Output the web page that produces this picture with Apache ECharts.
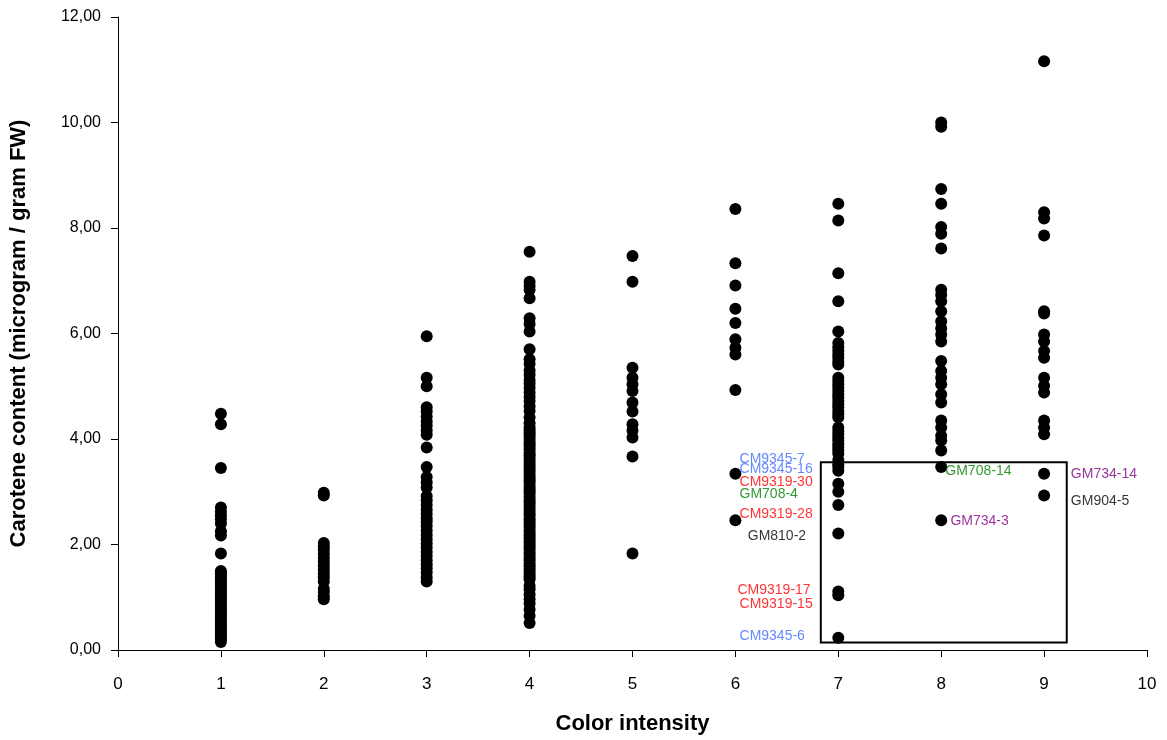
<!DOCTYPE html>
<html>
<head>
<meta charset="utf-8">
<script src="https://cdn.jsdelivr.net/npm/echarts@6/dist/echarts.min.js"></script>
<style>
html,body{margin:0;padding:0;background:#fff;}
#chart{width:1167px;height:740px;}
</style>
</head>
<body>
<div id="chart"></div>
<script>
// ---- data ----
const xTicks = [0,1,2,3,4,5,6,7,8,9,10];
const intensity = [1,2,3,4,5,6,7,8,9];
const carotene1 = [4.48,4.28,3.45,2.70,2.62,2.55,2.48,2.40,2.25,2.17,1.83,1.50,1.47,1.43,1.39,1.36,1.31,1.27,1.22,1.18,1.13,1.09,1.04,0.99,0.95,0.91,0.86,0.82,0.77,0.73,0.68,0.64,0.59,0.55,0.50,0.46,0.41,0.37,0.33,0.28,0.24,0.20,0.15];
const carotene2 = [2.98,2.93,2.03,1.96,1.90,1.82,1.75,1.68,1.60,1.52,1.45,1.38,1.30,1.16,1.10,1.02,0.96];
const carotene3 = [5.95,5.16,5.00,4.60,4.52,4.42,4.33,4.25,4.16,4.08,3.84,3.47,3.28,3.18,3.08,2.92,2.84,2.75,2.66,2.58,2.50,2.43,2.35,2.26,2.18,2.10,2.02,1.94,1.86,1.78,1.70,1.62,1.55,1.47,1.38,1.30];
const carotene4 = [7.55,6.98,6.90,6.83,6.67,6.29,6.18,6.04,5.70,5.51,5.42,5.30,5.22,5.12,5.05,4.97,4.88,4.80,4.72,4.62,4.53,4.41,4.30,4.22,
  4.16,4.11,4.06,4.01,3.95,3.90,3.85,3.80,3.74,3.69,3.64,3.59,3.53,3.48,3.43,3.38,3.32,3.27,3.22,3.17,3.11,3.06,3.01,2.96,2.90,2.85,2.80,2.75,2.69,2.64,2.59,2.54,2.48,2.43,2.38,2.33,2.27,2.22,2.17,2.12,2.06,2.01,1.96,1.91,1.85,1.80,1.75,1.70,1.64,1.59,1.54,1.49,1.43,1.39,1.34,
  1.22,1.15,1.05,0.96,0.88,0.77,0.65,0.51];
const carotene5 = [7.47,6.98,5.35,5.16,5.04,4.91,4.69,4.52,4.28,4.16,4.03,3.67,1.83];
const carotene6 = [8.36,7.33,6.91,6.47,6.20,5.89,5.73,5.60,4.93,3.34,2.46];
const carotene7 = [8.46,8.14,7.14,6.61,6.04,5.82,5.74,5.67,5.60,5.54,5.47,5.41,5.16,5.10,5.04,4.97,4.91,4.85,4.79,4.72,4.66,4.60,4.53,4.47,4.41,4.22,4.15,4.09,4.03,3.97,3.90,3.84,3.78,3.72,3.60,3.52,3.47,3.40,3.15,3.00,2.75,2.21,1.11,1.04,0.23];
const carotene8 = [10.00,9.92,8.74,8.46,8.02,7.89,7.61,6.83,6.73,6.61,6.42,6.23,6.10,5.98,5.85,5.48,5.29,5.16,5.04,4.85,4.69,4.35,4.22,4.06,3.97,3.78,3.47,2.46];
const carotene9 = [11.16,8.30,8.18,7.86,6.42,6.38,5.98,5.85,5.67,5.54,5.16,5.01,4.88,4.35,4.22,4.09,3.34,2.93];
const caroteneByIntensity = [carotene1,carotene2,carotene3,carotene4,carotene5,carotene6,carotene7,carotene8,carotene9];

const labelTexts  = ['CM9345-7','CM9345-16','CM9319-30','GM708-4','CM9319-28','GM810-2','CM9319-17','CM9319-15','CM9345-6','GM708-14','GM734-3','GM734-14','GM904-5'];
const labelX      = [6.04,6.04,6.04,6.04,6.04,6.12,6.02,6.04,6.04,8.04,8.09,9.26,9.26];
const labelY      = [3.62,3.42,3.18,2.95,2.58,2.15,1.13,0.86,0.26,3.40,2.44,3.33,2.83];
const labelColors = ['#3d6cff','#3d6cff','#ff0000','#008000','#ff0000','#000000','#ff0000','#ff0000','#3d6cff','#008000','#800080','#800080','#000000'];
const boxCorners  = [[6.83,3.56],[9.22,0.14]];

// ---- chart ----
const points = [];
intensity.forEach((x,i)=>caroteneByIntensity[i].forEach(v=>points.push([x,v])));
const labelData = labelTexts.map((t,i)=>({
  value:[labelX[i],labelY[i]], name:t,
  label:{color:labelColors[i]}
}));

const chart = echarts.init(document.getElementById('chart'), null, {renderer:'canvas'});
const FONT = '"Liberation Sans", Arial, sans-serif';
chart.setOption({
  animation:false,
  backgroundColor:'#fff',
  grid:{left:117,right:20,top:17,bottom:86,containLabel:false},
  xAxis:{
    type:'value',min:0,max:10,interval:1,
    name:'Color intensity',nameLocation:'middle',nameGap:63,
    nameTextStyle:{fontFamily:FONT,fontSize:22,fontWeight:'bold',color:'#000'},
    axisLine:{show:true,onZero:false,lineStyle:{color:'#000',width:1}},
    axisTick:{show:true,inside:false,length:7,lineStyle:{color:'#000'}},
    axisLabel:{fontFamily:FONT,fontSize:17,color:'#000',margin:26,
      formatter:v=>xTicks.includes(v)?String(v):''},
    splitLine:{show:false}
  },
  yAxis:{
    type:'value',min:0,max:12,interval:2,
    name:'Carotene content (microgram / gram FW)',nameLocation:'middle',nameGap:88,
    nameTextStyle:{fontFamily:FONT,fontSize:22,fontWeight:'bold',color:'#000'},
    axisLine:{show:true,onZero:false,lineStyle:{color:'#000',width:1}},
    axisTick:{show:true,inside:false,length:7,lineStyle:{color:'#000'}},
    axisLabel:{fontFamily:FONT,fontSize:16,color:'#000',margin:17,
      formatter:v=>v.toFixed(2).replace('.',',')},
    splitLine:{show:false}
  },
  series:[
    {
      type:'scatter',data:points,symbol:'circle',symbolSize:12,
      itemStyle:{color:'#000',opacity:1},silent:true
    },
    {
      type:'scatter',data:labelData,symbolSize:0,silent:true,
      label:{show:true,position:'right',distance:0,formatter:p=>p.name,
        fontFamily:FONT,fontSize:14,align:'left',verticalAlign:'middle'},
      markArea:{silent:true,
        itemStyle:{color:'rgba(0,0,0,0)',borderColor:'#000',borderWidth:2},
        data:[[{coord:boxCorners[0]},{coord:boxCorners[1]}]]}
    }
  ]
});
</script>
</body>
</html>
